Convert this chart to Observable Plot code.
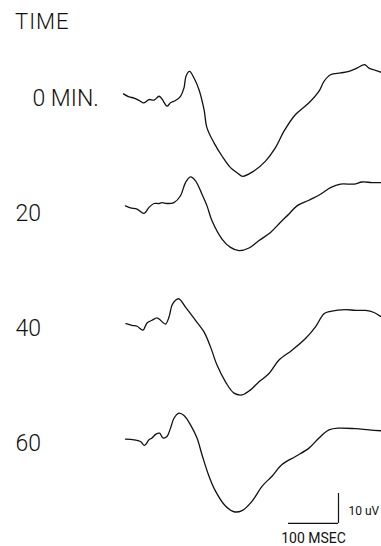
<!DOCTYPE html>
<html>
<head>
<meta charset="utf-8">
<script src="https://cdn.jsdelivr.net/npm/d3@7"></script>
<script src="https://cdn.jsdelivr.net/npm/@observablehq/plot@0.6"></script>
<style>
  body { margin: 0; background: #fff; }
  #title { box-sizing: border-box; height: 40px; padding-top: 9px; line-height: 22px; padding-left: 15px; font: 300 22px Roboto, "Liberation Sans", sans-serif; letter-spacing: 1px; color: #111; }
</style>
</head>
<body>
<div id="title">TIME</div>
<div id="chart"></div>
<script>
// Session labels (time after treatment)
const sessions = ["0 MIN.", "20", "40", "60"];

// Evoked potential traces: [time (ms), amplitude (uV)]
const trace0 = [
  [0,-0.2],[11,-1.2],[21,-1.6],[31,-2.4],[41,-3.2],[51,-2.1],[61,-2.3],[71,-1.0],[77,-1.9],
  [87,-4.3],[94,-3.2],[104,-2.4],[114,-1.0],[121,1.8],[125,5.7],[132,7.3],[141,5.1],[151,1.2],
  [161,-5.4],[167,-11.6],[181,-16.6],[197,-21.0],[214,-24.9],[227,-26.6],[238,-27.8],[261,-26.0],
  [284,-22.7],[304,-18.2],[321,-12.7],[344,-7.1],[371,-3.2],[391,0.7],[401,4.0],[414,6.2],
  [434,6.8],[451,7.3],[467,8.4],[482,9.6],[491,8.4],[504,7.7],[516,7.0]
];
const trace20 = [
  [4,0.8],[14,0.1],[27,-0.3],[41,-1.7],[51,0.3],[61,1.6],[71,1.6],[77,1.9],[87,1.6],[101,1.9],
  [114,4.2],[124,8.6],[134,10.5],[144,9.2],[157,4.7],[167,0.8],[177,-4.2],[197,-10.3],[214,-13.1],
  [231,-14.2],[251,-13.3],[271,-10.8],[294,-8.1],[314,-4.7],[331,-1.9],[347,0.8],[371,2.7],
  [394,4.7],[414,6.9],[434,8.1],[461,8.1],[477,8.8],[497,8.6],[516,8.6]
];
const trace40 = [
  [5,-0.1],[17,-0.7],[27,-1.0],[39,-2.3],[47,0.1],[57,1.0],[67,1.8],[74,1.0],[84,-0.3],[91,2.1],
  [97,6.0],[104,7.7],[111,8.2],[124,5.4],[144,1.0],[161,-2.9],[174,-7.9],[187,-14.0],[204,-19.6],
  [221,-23.4],[237,-24.0],[254,-22.3],[271,-19.6],[291,-16.8],[311,-12.3],[337,-9.0],[364,-5.1],
  [384,-1.2],[401,3.2],[414,4.0],[444,4.6],[464,4.3],[484,4.3],[501,3.6],[514,2.3]
];
const trace60 = [
  [4,-0.3],[21,-0.5],[34,-1.1],[42,-2.4],[51,-0.5],[57,0.1],[65,1.4],[72,1.7],[79,0.1],[87,0.6],
  [94,3.4],[101,6.7],[111,8.4],[121,7.6],[134,4.5],[147,0.1],[157,-5.5],[171,-12.7],[184,-17.7],
  [204,-22.7],[221,-24.6],[237,-24.2],[257,-21.1],[277,-16.1],[297,-12.7],[317,-8.8],[344,-6.1],
  [371,-3.3],[391,0.1],[411,2.8],[431,3.4],[464,3.2],[491,2.8],[516,2.5]
];

// Calibration bar
const scaleBarMs = 100;
const scaleBarUV = 10;
const scaleBarLabels = ["100 MSEC", "10 uV"];

const traces = [trace0, trace20, trace40, trace60];
const rows = traces.flatMap((tr, i) => tr.map(([ms, uV]) => ({session: sessions[i], ms, uV})));

// calibration bar placement (layout) in the last panel
const barEnd = 430, barBottom = -28.5;
const last = sessions[sessions.length - 1];
const barH = [{session: last, x1: barEnd - scaleBarMs, x2: barEnd, y: barBottom}];
const barV = [{session: last, x: barEnd, y1: barBottom, y2: barBottom + scaleBarUV}];

const font = 'Roboto, "Liberation Sans", sans-serif';

const chart = Plot.plot({
  width: 381,
  height: 506,
  marginTop: 0,
  marginBottom: 44,
  marginLeft: 123,
  marginRight: 0,
  facet: {marginTop: 0, marginBottom: 0, marginLeft: 0, marginRight: 0},
  x: {domain: [0, 516], axis: null},
  y: {domain: [-21.167, 17.333], axis: null},
  fy: {domain: sessions, padding: 0, axis: null},
  style: {background: "#fff"},
  marks: [
    Plot.line(rows, {x: "ms", y: "uV", fy: "session", z: "session", stroke: "#111", strokeWidth: 1.3, curve: "catmull-rom"}),
    Plot.text(sessions.slice(0, 1), {fy: d => d, text: d => d, frameAnchor: "left", textAnchor: "start", dx: -91, dy: 0,
      fontSize: 23, fontWeight: 300, fontFamily: font, fill: "#111"}),
    Plot.text(sessions.slice(1), {fy: d => d, text: d => d, frameAnchor: "left", textAnchor: "start", dx: -108, dy: 0,
      fontSize: 23, fontWeight: 300, fontFamily: font, fill: "#111"}),
    Plot.ruleY(barH, {fy: "session", x1: "x1", x2: "x2", y: "y", stroke: "#111", strokeWidth: 1.2}),
    Plot.ruleX(barV, {fy: "session", x: "x", y1: "y1", y2: "y2", stroke: "#111", strokeWidth: 1.2}),
    Plot.text(barV, {fy: "session", x: "x", y: d => (d.y1 + d.y2) / 2, text: () => scaleBarLabels[1], textAnchor: "start", dx: 10, dy: 3,
      fontSize: 12, fontFamily: font, fill: "#111"}),
    Plot.text(barH, {fy: "session", x: d => (d.x1 + d.x2) / 2, y: "y", text: () => scaleBarLabels[0], dy: 15,
      fontSize: 14, fontFamily: font, fill: "#111"})
  ]
});
document.getElementById("chart").append(chart);
</script>
</body>
</html>
